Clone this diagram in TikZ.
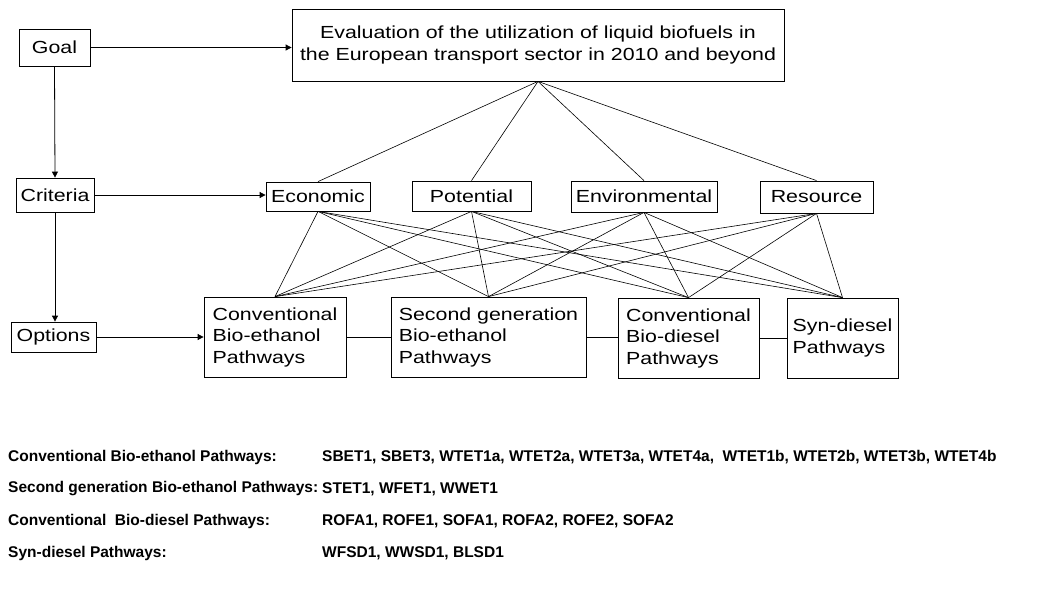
\documentclass[tikz,border=0pt]{standalone}
\usepackage{fontspec}
\setmainfont{Liberation Sans}
\newfontfamily\boxfont{Liberation Sans}[FakeStretch=1.22]
\usetikzlibrary{positioning,arrows.meta}

\begin{document}
\begin{tikzpicture}[
  x=1pt,y=-1pt,
  font=\boxfont\fontsize{17.5}{21.5}\selectfont,
  box/.style={draw,line width=0.8pt,inner sep=0pt,align=center},
  optbox/.style={box,minimum height=80pt,align=left},
  arrow/.style={-{Triangle[length=6pt,width=6pt]},line width=0.8pt},
  link/.style={line width=0.6pt},
  listlabel/.style={anchor=west,inner sep=0pt,font=\rmfamily\bfseries\fontsize{15.5}{18}\selectfont},
]
  \useasboundingbox (0,0) rectangle (1052,595);

  % Left column: the three levels.
  \node[box,minimum width=71pt,minimum height=37pt] (goal) at (54.5,47.5) {Goal};
  \node[box,minimum width=78pt,minimum height=34pt] (crit) at (55,195) {Criteria};
  \node[box,minimum width=85pt,minimum height=30pt] (opts) at (53.5,337) {Options};

  % Goal box.
  \node[box,minimum width=492pt,minimum height=72pt] (title) at (538,45)
    {Evaluation of the utilization of liquid biofuels in\\the European transport sector in 2010 and beyond};

  % Criteria boxes.
  \node[box,minimum width=104pt,minimum height=29pt] (econ) at (318,196.5) {Economic};
  \node[box,minimum width=119pt,minimum height=30pt] (pot) at (471.5,196) {Potential};
  \node[box,minimum width=146pt,minimum height=31pt] (env) at (644,196.5) {Environmental};
  \node[box,minimum width=113pt,minimum height=32pt] (res) at (816.5,197) {Resource};

  % Option boxes.
  \node[optbox,minimum width=142pt] (cbe) at (275,337) {Conventional\\Bio-ethanol\\Pathways};
  \node[optbox,minimum width=195pt] (sge) at (488.5,337) {Second generation\\Bio-ethanol\\Pathways};
  \node[optbox,minimum width=141pt] (cbd) at (688.5,338) {Conventional\\Bio-diesel\\Pathways};
  \node[optbox,minimum width=111pt] (syn) at (842.5,338) {Syn-diesel\\Pathways};

  \draw[arrow] (goal.east) -- (goal.east -| title.west);
  \draw[arrow] (goal.south) -- (crit.north);
  \draw[arrow] (crit.east) -- (crit.east -| econ.west);
  \draw[arrow] (crit.south) -- (crit.south |- opts.north);
  \draw[arrow] (opts.east) -- (opts.east -| cbe.west);

  \draw[link] (cbe.east) -- (sge.west);
  \draw[link] (sge.east) -- (sge.east -| cbd.west);
  \draw[link] (cbd.east) -- (syn.west);

  % Hierarchy links.
  \foreach \c in {econ,pot,env,res} {
    \draw[link] (title.south) -- (\c.north);
    \foreach \o in {cbe,sge,cbd,syn}
      \draw[link] (\c.south) -- (\o.north);
  }

  % Pathway list underneath.
  \node[listlabel] (l1) at (8,457) {Conventional Bio-ethanol Pathways:};
  \node[listlabel] (v1) at (322,457) {SBET1, SBET3, WTET1a, WTET2a, WTET3a, WTET4a,\ \ WTET1b, WTET2b, WTET3b, WTET4b};
  \node[listlabel] (l2) at (8,489) {Second generation Bio-ethanol Pathways:};
  \node[listlabel] (v2) at (322,489) {STET1, WFET1, WWET1};
  \node[listlabel] (l3) at (8,521) {Conventional\ \ Bio-diesel Pathways:};
  \node[listlabel] (v3) at (322,521) {ROFA1, ROFE1, SOFA1, ROFA2, ROFE2, SOFA2};
  \node[listlabel] (l4) at (8,553) {Syn-diesel Pathways:};
  \node[listlabel] (v4) at (322,553) {WFSD1, WWSD1, BLSD1};

\end{tikzpicture}
\end{document}
